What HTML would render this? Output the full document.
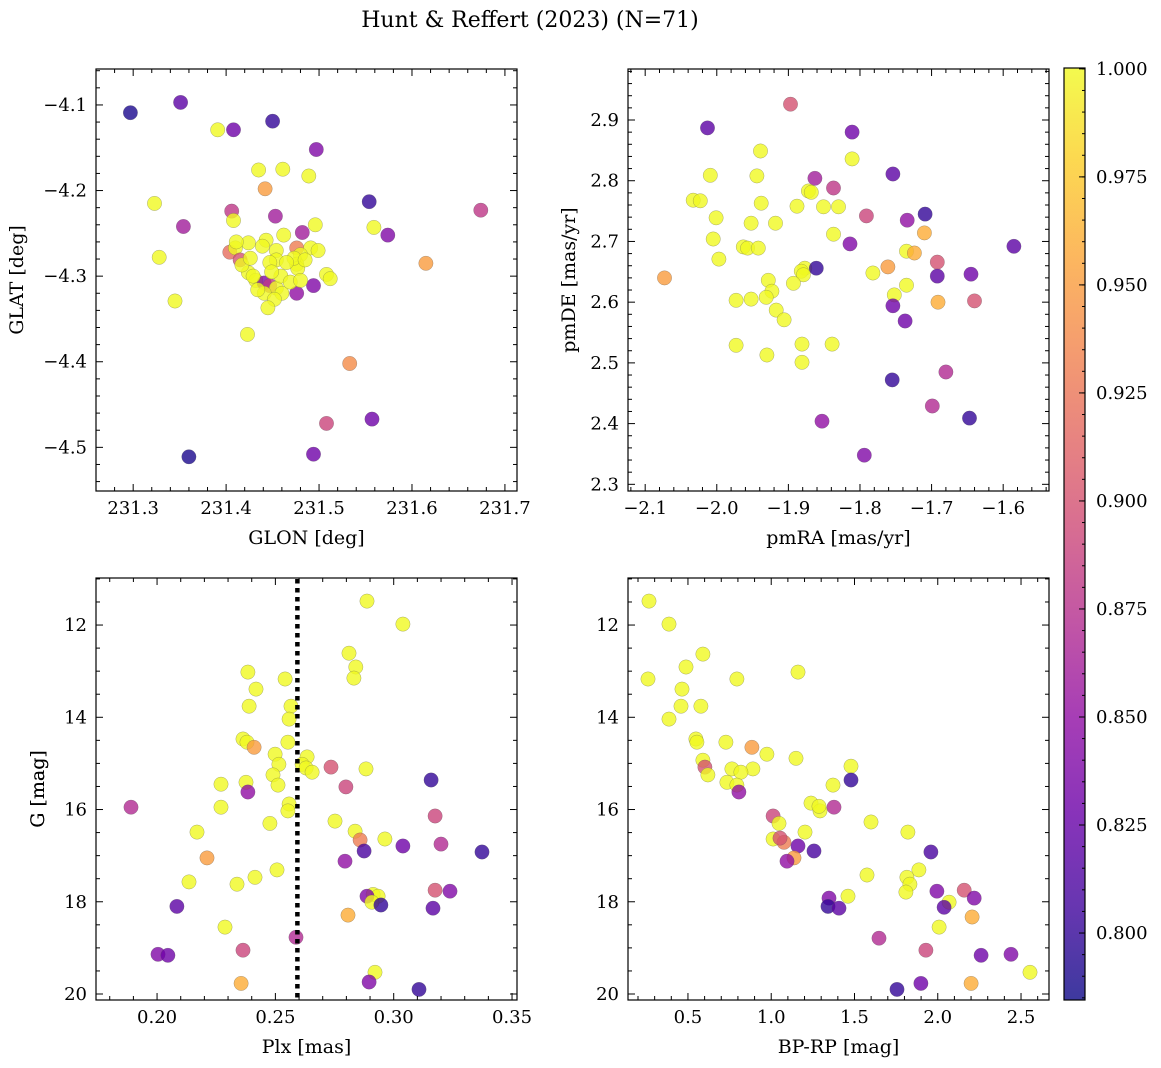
<!DOCTYPE html>
<html><head><meta charset="utf-8">
<style>
html,body{margin:0;padding:0;background:#fff;}
svg{display:block;font-family:"DejaVu Serif","Liberation Serif",serif;}
</style></head>
<body>
<svg id="fig" width="1161" height="1068" viewBox="0 0 1161 1068" xmlns="http://www.w3.org/2000/svg">
<text x="530" y="27" font-size="22" text-anchor="middle">Hunt &amp; Reffert (2023) (N=71)</text>
</svg>
<script>
// ---- data (per panel) ----
const glon = [231.297,231.351,231.391,231.408,231.450,231.497,231.435,231.461,231.489,231.442,231.323,231.554,231.674,231.406,231.453,231.354,231.408,231.559,231.496,231.574,231.482,231.462,231.443,231.424,231.328,231.404,231.410,231.476,231.491,231.415,231.454,231.454,231.480,231.476,231.508,231.512,231.615,231.424,231.432,231.441,231.447,231.454,231.441,231.460,231.476,231.452,231.494,231.345,231.423,231.533,231.508,231.557,231.360,231.494,231.429,231.459,231.477,231.473,231.439,231.465,231.447,231.417,231.426,231.469,231.499,231.411,231.485,231.449,231.434,231.480,231.445];
const glat = [-4.109,-4.097,-4.129,-4.129,-4.119,-4.152,-4.176,-4.175,-4.183,-4.198,-4.215,-4.213,-4.223,-4.224,-4.230,-4.242,-4.235,-4.243,-4.240,-4.252,-4.249,-4.252,-4.258,-4.261,-4.278,-4.272,-4.267,-4.267,-4.267,-4.281,-4.270,-4.281,-4.275,-4.286,-4.298,-4.303,-4.285,-4.296,-4.305,-4.308,-4.311,-4.314,-4.320,-4.320,-4.320,-4.327,-4.311,-4.329,-4.368,-4.402,-4.472,-4.467,-4.511,-4.508,-4.300,-4.300,-4.291,-4.279,-4.265,-4.284,-4.284,-4.287,-4.279,-4.307,-4.270,-4.260,-4.281,-4.295,-4.316,-4.305,-4.337];
const prob1 = [0.79,0.82,1,0.83,0.80,0.84,1,1,1,0.95,1,0.80,0.88,0.88,0.86,0.86,1,1,1,0.84,0.86,1,1,1,1,0.92,1,0.93,1,0.90,1,1,1,1,1,1,0.95,1,1,0.84,0.88,1,1,1,0.85,1,0.84,1,1,0.94,0.89,0.83,0.79,0.83,1,1,1,1,1,1,1,1,1,1,1,1,1,1,1,1,1];

const pmra = [-1.897,-2.013,-1.811,-1.939,-1.811,-2.009,-1.944,-1.754,-1.863,-1.872,-1.868,-1.837,-2.033,-2.023,-1.938,-1.888,-1.851,-1.830,-1.791,-1.709,-2.001,-1.952,-1.918,-1.734,-1.837,-1.710,-2.005,-1.963,-1.957,-1.942,-1.814,-1.735,-1.724,-1.585,-1.997,-1.692,-1.877,-1.882,-1.861,-1.761,-1.782,-1.879,-1.645,-1.692,-2.073,-1.893,-1.735,-1.928,-1.923,-1.752,-1.973,-1.952,-1.931,-1.691,-1.640,-1.754,-1.917,-1.906,-1.737,-1.973,-1.881,-1.839,-1.930,-1.881,-1.680,-1.755,-1.699,-1.647,-1.853,-1.794];
const pmde = [2.926,2.887,2.880,2.849,2.836,2.809,2.808,2.811,2.804,2.783,2.781,2.788,2.768,2.767,2.763,2.758,2.757,2.757,2.742,2.745,2.739,2.730,2.730,2.735,2.712,2.714,2.704,2.691,2.689,2.689,2.696,2.684,2.681,2.692,2.671,2.666,2.656,2.651,2.656,2.658,2.648,2.645,2.646,2.643,2.640,2.631,2.628,2.636,2.618,2.612,2.603,2.605,2.608,2.600,2.602,2.594,2.587,2.571,2.569,2.529,2.531,2.531,2.513,2.501,2.485,2.472,2.429,2.409,2.404,2.348];
const prob2 = [0.90,0.82,0.83,1,1,1,1,0.82,0.86,1,1,0.88,1,1,1,1,1,1,0.89,0.80,1,1,1,0.85,1,0.96,1,1,1,1,0.84,1,0.96,0.82,1,0.90,1,1,0.80,0.95,1,1,0.83,0.82,0.95,1,1,1,1,1,1,1,1,0.96,0.90,0.83,1,1,0.83,1,1,1,1,1,0.87,0.80,0.87,0.80,0.85,0.84];

const plx = [0.2887,0.3039,0.2811,0.2840,0.2384,0.2541,0.2832,0.2418,0.2566,0.2389,0.2558,0.2363,0.2380,0.2410,0.2553,0.2634,0.2613,0.2630,0.2735,0.2499,0.2515,0.2655,0.2883,0.2490,0.2511,0.2270,0.2376,0.3158,0.2384,0.2798,0.1890,0.2270,0.2558,0.2553,0.2752,0.2477,0.3175,0.2169,0.2837,0.2858,0.2963,0.2875,0.3039,0.3200,0.3373,0.2211,0.2794,0.2507,0.2135,0.2414,0.2338,0.3175,0.3238,0.2913,0.2934,0.2887,0.2908,0.2807,0.2946,0.2084,0.3166,0.2287,0.2587,0.2363,0.2004,0.2046,0.2921,0.2896,0.2355,0.3107];
const gmag3 = [11.48,11.98,12.61,12.91,13.02,13.17,13.15,13.39,13.76,13.76,14.04,14.47,14.54,14.65,14.54,14.86,15.02,15.10,15.08,14.80,15.02,15.19,15.12,15.25,15.47,15.45,15.41,15.36,15.62,15.51,15.95,15.95,15.88,16.03,16.25,16.30,16.14,16.49,16.47,16.66,16.64,16.90,16.79,16.75,16.92,17.05,17.12,17.31,17.57,17.47,17.62,17.75,17.77,17.84,17.88,17.88,18.01,18.29,18.07,18.10,18.14,18.55,18.77,19.05,19.14,19.16,19.53,19.74,19.77,19.90];
const prob3 = [1,1,1,1,1,1,1,1,1,1,1,1,1,0.95,1,1,1,1,0.90,1,1,1,1,1,1,1,1,0.80,0.85,0.89,0.87,1,1,1,1,1,0.89,1,1,0.93,1,0.81,0.83,0.87,0.80,0.95,0.85,1,1,1,1,0.90,0.84,1,1,0.84,1,0.96,0.80,0.82,0.82,1,0.87,0.89,0.84,0.83,1,0.84,0.96,0.80];
const plxLine = 0.2593;

const bprp = [0.266,0.386,0.260,0.488,0.590,1.161,0.794,0.464,0.458,0.578,0.386,0.728,0.548,0.554,0.884,0.974,0.590,1.149,0.602,1.479,0.764,0.890,0.620,0.818,0.734,0.794,1.371,1.479,0.806,1.239,1.293,1.287,1.377,1.011,1.047,1.599,1.203,1.821,1.011,1.077,1.053,1.257,1.161,1.959,1.137,1.095,1.887,1.575,1.815,1.833,1.995,2.159,1.809,1.461,1.347,2.219,2.068,2.038,1.341,1.407,2.206,2.008,1.647,1.929,2.260,2.440,2.554,1.899,2.200,1.755];
const gmag4 = [11.48,11.98,13.17,12.91,12.63,13.02,13.17,13.39,13.76,13.76,14.04,14.54,14.47,14.54,14.65,14.80,14.93,14.89,15.08,15.06,15.12,15.12,15.25,15.19,15.41,15.47,15.47,15.36,15.62,15.86,16.03,15.93,15.95,16.14,16.30,16.27,16.49,16.49,16.64,16.71,16.62,16.90,16.79,16.92,17.05,17.12,17.31,17.42,17.47,17.62,17.77,17.75,17.79,17.88,17.92,17.92,18.01,18.12,18.10,18.14,18.33,18.55,18.79,19.05,19.16,19.14,19.53,19.77,19.77,19.90];
const prob4 = [1,1,1,1,1,1,1,1,1,1,1,1,1,1,0.95,1,1,1,0.90,1,1,1,1,1,1,1,1,0.80,0.85,1,1,1,0.87,0.89,1,1,1,1,1,0.93,0.90,0.81,0.83,0.81,0.95,0.85,1,1,1,1,0.84,0.90,1,1,0.84,0.84,1,0.82,0.80,0.82,0.96,1,0.87,0.89,0.83,0.84,1,0.83,0.96,0.80];

const cbTicks = [0.800,0.825,0.850,0.875,0.900,0.925,0.950,0.975,1.000];

// ---- helpers ----
const NS = "http://www.w3.org/2000/svg";
const svg = document.getElementById('fig');
const VMIN = 0.7845, VMAX = 1.0002;
const plasma = ["#0d0887","#41049d","#6a00a8","#8f0da4","#b12a90","#cc4778","#e16462","#f2844b","#fca636","#fcce25","#f0f921"];
function hex(h){return [parseInt(h.slice(1,3),16),parseInt(h.slice(3,5),16),parseInt(h.slice(5,7),16)];}
function cmap(v){
  let t=(v-VMIN)/(VMAX-VMIN); t=Math.max(0,Math.min(1,t));
  const f=t*10, i=Math.min(9,Math.floor(f)), r=f-i;
  const a=hex(plasma[i]), b=hex(plasma[i+1]);
  return `rgb(${a.map((c,k)=>Math.round(c+(b[k]-c)*r)).join(',')})`;
}
function mk(tag, attrs, parent){
  const e=document.createElementNS(NS,tag);
  for(const k in attrs) e.setAttribute(k,attrs[k]);
  (parent||svg).appendChild(e); return e;
}
function fmt(v,d){ const s=Math.abs(v).toFixed(d); return (v<-1e-9?"\u2212":"")+s; }

function panel(name, box, xr, yr, xMaj, xMin, yMaj, yMin, xd, yd, xlabel, ylabel, xs, ys, ps, yInv){
  const [L,T,R,B]=box;
  const sx=v=>L+(v-xr[0])/(xr[1]-xr[0])*(R-L);
  const sy=yInv ? (v=>T+(v-yr[0])/(yr[1]-yr[0])*(B-T)) : (v=>B-(v-yr[0])/(yr[1]-yr[0])*(B-T));
  const g=mk('g',{});
  
  
  const pts=mk('g',{},g);
  
  
  for(let i=0;i<xs.length;i++){
    const c=mk('circle',{cx:sx(xs[i]).toFixed(1),cy:sy(ys[i]).toFixed(1),r:7.2,fill:cmap(ps[i]),'fill-opacity':0.8,stroke:'#555','stroke-width':0.4,'stroke-opacity':0.6},pts);
    
    
  }
  const frame=mk('rect',{x:L,y:T,width:R-L,height:B-T,fill:'none',stroke:'#000','stroke-width':1.2},g);
  
  
  const lo=Math.min(xr[0],xr[1]), hi=Math.max(xr[0],xr[1]);
  for(let k=Math.ceil(lo/xMin-1e-6);k*xMin<=hi+1e-9;k++){
    const v=k*xMin, x=sx(v); const maj=Math.abs(v/xMaj-Math.round(v/xMaj))<1e-6; const len=maj?7:4;
    mk('line',{x1:x,x2:x,y1:B,y2:B-len,stroke:'#000','stroke-width':1},g);
    mk('line',{x1:x,x2:x,y1:T,y2:T+len,stroke:'#000','stroke-width':1},g);
    if(maj){const t=mk('text',{x:x,y:B+23,'font-size':18,'text-anchor':'middle'},g);t.textContent=fmt(v,xd);
      
      }
  }
  const ylo=Math.min(yr[0],yr[1]), yhi=Math.max(yr[0],yr[1]);
  for(let k=Math.ceil(ylo/yMin-1e-6);k*yMin<=yhi+1e-9;k++){
    const v=k*yMin, y=sy(v); const maj=Math.abs(v/yMaj-Math.round(v/yMaj))<1e-6; const len=maj?7:4;
    mk('line',{x1:L,x2:L+len,y1:y,y2:y,stroke:'#000','stroke-width':1},g);
    mk('line',{x1:R,x2:R-len,y1:y,y2:y,stroke:'#000','stroke-width':1},g);
    if(maj){const t=mk('text',{x:L-9,y:y+6,'font-size':18,'text-anchor':'end'},g);t.textContent=fmt(v,yd);
      
      }
  }
  const xl=mk('text',{x:(L+R)/2,y:B+53,'font-size':19,'text-anchor':'middle'},g); xl.textContent=xlabel;
  
  
  const yl=mk('text',{x:0,y:0,'font-size':19,'text-anchor':'middle',transform:`translate(${name==='sky'?23:name==='pm'?575:44},${(T+B)/2}) rotate(-90)`},g); yl.textContent=ylabel;
  
  
  return {sx,sy};
}

panel('sky',[96,69,517,491],[231.260,231.713],[-4.551,-4.058],0.1,0.02,0.1,0.02,1,1,'GLON [deg]','GLAT [deg]',glon,glat,prob1,false);
panel('pm',[628,69,1049,491],[-2.124,-1.536],[2.289,2.984],0.1,0.02,0.1,0.02,1,1,'pmRA [mas/yr]','pmDE [mas/yr]',pmra,pmde,prob2,false);
const p3=panel('plx',[96,578,517,1000],[0.1742,0.3521],[10.98,20.13],0.05,0.01,2,0.5,2,0,'Plx [mas]','G [mag]',plx,gmag3,prob3,true);
panel('cmd',[628,578,1049,1000],[0.140,2.668],[10.98,20.13],0.5,0.1,2,0.5,1,0,'BP-RP [mag]','G [mag]',bprp,gmag4,prob4,true);

const dl=mk('line',{x1:p3.sx(plxLine),x2:p3.sx(plxLine),y1:579,y2:999,stroke:'#000','stroke-width':4.5,'stroke-dasharray':'4.5,4.5'});



const cb=mk('g',{});


const defs=mk('defs',{},cb);
const lg=mk('linearGradient',{id:'cbg',x1:0,y1:1,x2:0,y2:0},defs);
for(let i=0;i<=20;i++){const v=VMIN+(VMAX-VMIN)*i/20; mk('stop',{offset:i/20,'stop-color':cmap(v),'stop-opacity':0.8},lg);}
const CT=68,CB=1000,CL=1064,CR=1085;
const cy=v=>CB-(v-VMIN)/(VMAX-VMIN)*(CB-CT);
mk('rect',{x:CL,y:CT,width:CR-CL,height:CB-CT,fill:'url(#cbg)',stroke:'#000','stroke-width':1.2},cb);
for(let k=Math.ceil(VMIN/0.005);k*0.005<=VMAX+1e-9;k++){
  const y=cy(k*0.005); mk('line',{x1:CR,x2:CR-3,y1:y,y2:y,stroke:'#000','stroke-width':1},cb);
}
cbTicks.forEach(v=>{
  const y=cy(v); mk('line',{x1:CR,x2:CR-6,y1:y,y2:y,stroke:'#000','stroke-width':1},cb);
  const t=mk('text',{x:CR+11,y:y+6,'font-size':18},cb); t.textContent=v.toFixed(3);
  
  
});
</script>
</body></html>
